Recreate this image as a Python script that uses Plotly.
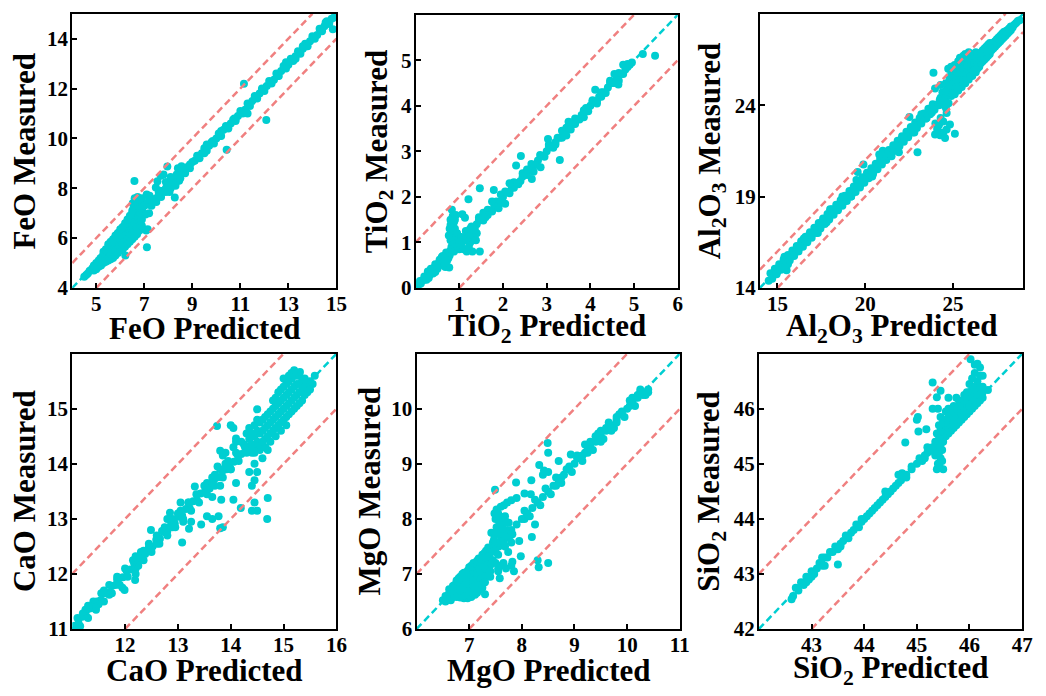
import plotly.graph_objects as go

CYAN = "#00CED1"
RED = "#F08080"
FONT = "Liberation Serif"

# ---------------- data: (predicted, measured) ----------------
feo = [
    (4.50, 4.45), (4.58, 4.52), (4.65, 4.58), (4.72, 4.68), (4.78, 4.72), (4.85, 4.80), (4.90, 4.90), (4.95, 4.85),
    (5.00, 5.00), (5.05, 4.95), (5.10, 5.10), (5.12, 5.00), (5.18, 5.20), (5.22, 5.10), (5.28, 5.30), (5.30, 5.15),
    (5.35, 5.40), (5.38, 5.25), (5.42, 5.50), (5.45, 5.35), (5.50, 5.60), (5.52, 5.42), (5.55, 5.30), (5.58, 5.70),
    (5.60, 5.50), (5.65, 5.80), (5.65, 5.40), (5.70, 5.60), (5.72, 5.90), (5.75, 5.48), (5.78, 5.70), (5.80, 6.05),
    (5.82, 5.58), (5.85, 5.85), (5.88, 6.15), (5.90, 5.65), (5.92, 5.95), (5.95, 6.20), (5.98, 5.75), (6.00, 6.05),
    (6.02, 6.30), (6.05, 5.85), (6.08, 6.15), (6.10, 6.40), (6.12, 5.95), (6.15, 6.25), (6.18, 6.00), (6.20, 6.50),
    (6.22, 6.35), (6.25, 6.10), (6.28, 6.60), (6.30, 6.45), (6.32, 6.20), (6.35, 6.70), (6.38, 6.55), (6.40, 6.30),
    (6.42, 6.85), (6.45, 6.65), (6.48, 6.40), (6.50, 7.00), (6.50, 6.75), (6.52, 7.40), (6.55, 6.50), (6.55, 7.20),
    (6.58, 6.90), (6.60, 7.60), (6.60, 6.60), (6.62, 7.05), (6.65, 7.35), (6.65, 6.75), (6.68, 7.50), (6.70, 6.95),
    (6.70, 7.15), (6.72, 7.65), (6.75, 6.85), (6.75, 7.30), (6.78, 7.05), (6.80, 7.45), (6.82, 7.20), (6.85, 7.00),
    (6.85, 7.35), (6.90, 7.25), (6.92, 7.10), (6.95, 7.40),
    (4.90, 4.70), (5.00, 4.75), (5.10, 4.85), (5.20, 4.90), (5.30, 5.00), (5.30, 5.45), (5.40, 5.05), (5.40, 5.55),
    (5.40, 5.20), (5.50, 5.10), (5.50, 5.75), (5.50, 5.30), (5.60, 5.15), (5.60, 5.85), (5.60, 5.35), (5.70, 5.20),
    (5.70, 5.95), (5.70, 5.45), (5.80, 5.30), (5.80, 6.10), (5.80, 5.50), (5.90, 5.40), (5.90, 6.20), (5.90, 5.55),
    (6.00, 5.50), (6.00, 6.35), (6.00, 5.65), (6.10, 5.55), (6.10, 6.45), (6.10, 5.75), (6.20, 5.65), (6.20, 6.60),
    (6.20, 5.85), (6.30, 5.75), (6.30, 6.75), (6.30, 5.95), (6.40, 5.85), (6.40, 6.90), (6.40, 6.05), (6.50, 5.95),
    (6.50, 7.10), (6.50, 6.15), (6.60, 6.05), (6.60, 7.30), (6.60, 6.25), (6.70, 6.15), (6.70, 7.45), (6.70, 6.35),
    (6.80, 6.30), (6.80, 7.55), (6.80, 6.60), (6.90, 6.50), (6.90, 7.60), (6.90, 6.75),
    (6.59, 8.29), (6.21, 5.30), (7.11, 5.63), (7.14, 6.35), (7.08, 6.30), (7.05, 6.95), (7.20, 7.00), (7.10, 7.75),
    (7.22, 7.70), (7.48, 8.03), (7.55, 8.28), (7.69, 8.50), (7.80, 8.55), (7.96, 8.87), (8.27, 7.63), (8.10, 8.45),
    (8.40, 8.80), (8.55, 8.88), (7.90, 8.25), (8.30, 8.10), (8.05, 7.85), (8.45, 8.30), (8.35, 8.55), (7.65, 7.90),
    (7.00, 7.30), (7.10, 7.35), (7.20, 7.40), (7.30, 7.45), (7.40, 7.55), (7.50, 7.60), (7.60, 7.70), (7.70, 7.80),
    (7.80, 7.90), (7.90, 8.00), (8.00, 8.05), (8.10, 8.15), (8.20, 8.25), (8.30, 8.35), (8.40, 8.45), (8.50, 8.55),
    (8.60, 8.65), (8.70, 8.70), (8.80, 8.85), (8.90, 8.95), (9.00, 9.05),
    (7.30, 7.30), (7.50, 7.45), (7.70, 7.65), (7.90, 7.85), (8.10, 8.00), (8.30, 8.20), (8.50, 8.40), (8.70, 8.60),
    (8.90, 8.80), (7.20, 7.55), (7.60, 7.85), (8.00, 8.20), (8.60, 8.80),
    (9.10, 9.10), (9.25, 9.30), (9.40, 9.40), (9.55, 9.55), (9.70, 9.70), (9.85, 9.90), (10.00, 10.00), (10.15, 10.10),
    (10.30, 10.35), (10.45, 10.45), (10.60, 10.60), (10.75, 10.80), (10.90, 10.90), (11.05, 11.05), (11.20, 11.15),
    (11.35, 11.35), (11.50, 11.50), (11.65, 11.65), (11.80, 11.80), (11.95, 11.95), (12.10, 12.10), (12.25, 12.25),
    (12.40, 12.35), (12.55, 12.50), (12.70, 12.70), (12.85, 12.85), (13.00, 12.95), (13.15, 13.15), (13.30, 13.30),
    (13.45, 13.45), (13.60, 13.60), (13.75, 13.70), (13.90, 13.90), (14.05, 14.05), (14.20, 14.15), (14.35, 14.35),
    (14.50, 14.50), (14.65, 14.60), (14.80, 14.80), (14.90, 14.85),
    (9.20, 9.30), (9.50, 9.60), (9.80, 9.85), (10.10, 10.20), (10.40, 10.50), (10.70, 10.75), (11.00, 11.10),
    (11.30, 11.40), (11.60, 11.70), (11.90, 11.95), (12.20, 12.30), (12.50, 12.60), (12.80, 12.90), (13.10, 13.20),
    (13.40, 13.50), (13.70, 13.80), (14.00, 14.10), (14.30, 14.40), (14.60, 14.70), (9.30, 9.20), (9.60, 9.50),
    (9.90, 9.80), (10.20, 10.10), (10.50, 10.40), (10.80, 10.75), (11.10, 11.00), (11.40, 11.30), (11.70, 11.60),
    (12.00, 11.90), (12.30, 12.20), (12.60, 12.50), (12.90, 12.80), (13.20, 13.10), (13.50, 13.40), (13.80, 13.70),
    (14.10, 14.00), (14.40, 14.35), (14.70, 14.60),
    (10.43, 9.54), (11.15, 12.19), (12.08, 10.74), (14.85, 14.38), (12.90, 13.05), (13.60, 13.70), (14.40, 14.30),
    (11.30, 11.00), (9.60, 9.75), (10.80, 10.70), (9.50, 9.40), (11.90, 12.00), (13.30, 13.20), (10.20, 10.30),
    (14.55, 14.65),
]

tio2 = [
    (0.03, 0.03), (0.08, 0.08), (0.12, 0.10), (0.15, 0.16), (0.20, 0.18), (0.22, 0.24), (0.27, 0.25), (0.30, 0.32),
    (0.32, 0.28), (0.35, 0.37), (0.38, 0.33), (0.40, 0.42), (0.42, 0.38), (0.45, 0.47), (0.48, 0.44), (0.50, 0.52),
    (0.52, 0.47), (0.55, 0.56), (0.58, 0.52), (0.60, 0.62), (0.62, 0.57), (0.65, 0.66), (0.68, 0.62), (0.70, 0.72),
    (0.72, 0.67), (0.75, 0.76), (0.78, 0.72), (0.80, 0.82), (0.68, 0.46), (0.77, 0.45), (0.28, 0.36), (0.45, 0.52),
    (0.60, 0.68),
    (0.10, 0.15), (0.20, 0.25), (0.30, 0.22), (0.40, 0.32), (0.50, 0.42), (0.55, 0.62), (0.65, 0.55), (0.70, 0.78),
    (0.75, 0.65), (0.35, 0.42), (0.25, 0.18), (0.45, 0.35), (0.62, 0.70), (0.72, 0.60),
    (0.83, 1.72), (0.85, 1.58), (0.92, 1.60), (0.80, 1.50), (0.88, 1.45), (0.80, 1.38), (0.90, 1.30), (0.83, 1.22),
    (0.88, 1.12), (0.95, 1.05), (0.80, 1.05), (0.85, 0.95), (0.93, 0.90), (1.00, 0.85), (1.05, 0.95), (0.78, 1.30),
    (0.95, 1.20), (0.82, 0.90), (0.88, 0.80), (0.76, 1.15), (0.90, 1.50),
    (1.17, 0.80), (1.30, 0.80), (1.47, 0.80), (1.10, 0.85), (1.25, 1.00), (1.30, 1.15), (1.35, 1.30), (1.40, 1.20),
    (1.28, 1.35), (1.15, 1.25), (1.20, 1.10), (1.13, 1.54), (1.07, 1.62), (1.21, 1.95), (1.47, 2.19), (1.79, 2.15),
    (1.38, 1.05), (1.22, 0.90),
    (0.85, 0.85), (0.90, 0.90), (1.00, 1.00), (1.10, 1.10), (1.20, 1.15), (1.30, 1.30), (1.40, 1.40), (1.50, 1.50),
    (1.60, 1.55), (1.70, 1.70), (1.80, 1.80), (1.90, 1.85), (2.00, 2.00), (2.10, 2.10), (2.20, 2.20), (2.30, 2.30),
    (2.40, 2.35), (2.50, 2.50), (2.60, 2.60), (2.70, 2.70), (2.80, 2.80), (2.90, 2.90), (3.00, 3.00), (3.10, 3.10),
    (3.20, 3.20), (3.30, 3.30), (3.40, 3.40), (3.50, 3.50), (3.60, 3.60), (3.70, 3.70), (3.80, 3.80), (3.90, 3.90),
    (4.00, 4.00), (4.10, 4.10), (4.20, 4.20), (4.30, 4.30), (4.40, 4.40), (4.50, 4.50), (4.60, 4.60), (4.70, 4.70),
    (4.80, 4.80), (4.90, 4.90),
    (1.05, 1.12), (1.25, 1.30), (1.45, 1.50), (1.65, 1.72), (1.85, 1.90), (2.05, 2.12), (2.25, 2.32), (2.45, 2.52),
    (2.65, 2.72), (2.85, 2.92), (3.05, 3.12), (3.25, 3.30), (3.45, 3.52), (3.65, 3.72), (3.85, 3.90), (4.05, 4.12),
    (4.25, 4.30), (4.45, 4.55), (4.65, 4.72), (4.85, 4.92), (1.15, 1.05), (1.35, 1.28), (1.55, 1.48), (1.75, 1.68),
    (1.95, 1.90), (2.15, 2.08), (2.35, 2.28), (2.55, 2.48), (2.75, 2.70), (2.95, 2.88), (3.15, 3.08), (3.35, 3.30),
    (3.55, 3.48), (3.75, 3.70), (3.95, 3.88), (4.15, 4.10), (4.35, 4.28), (4.55, 4.50), (4.75, 4.70),
    (1.55, 1.65), (1.75, 1.90), (1.45, 1.55), (1.65, 1.60), (2.05, 1.85), (1.95, 2.05), (2.55, 2.60), (2.70, 2.55),
    (3.05, 3.15), (3.20, 3.15), (3.50, 3.65), (3.65, 3.60), (3.90, 3.95), (4.15, 4.05), (4.25, 4.20), (4.55, 4.70),
    (4.75, 4.90), (4.95, 4.95), (4.85, 4.85), (4.65, 4.55), (2.25, 2.20), (2.45, 2.45), (3.35, 3.45), (3.45, 3.35),
    (1.90, 1.75), (2.15, 2.30), (3.85, 3.75), (4.45, 4.50), (4.05, 4.10),
    (2.30, 2.69), (2.41, 2.90), (3.30, 2.81), (2.66, 2.39), (2.86, 2.65), (4.64, 4.47), (5.20, 5.14), (5.48, 5.10),
    (4.11, 4.35), (3.03, 3.27),
]

al2o3 = [
    (14.50, 14.40), (14.75, 14.70), (15.00, 14.90), (15.25, 15.20), (15.50, 15.50), (15.60, 15.30), (15.40, 15.70),
    (15.52, 14.97), (15.75, 15.70), (16.00, 16.00), (16.25, 16.20), (16.50, 16.50), (16.75, 16.75), (17.00, 17.00),
    (17.25, 17.20), (17.50, 17.50), (17.75, 17.80), (18.00, 18.00), (18.25, 18.30), (18.50, 18.50), (18.75, 18.70),
    (19.00, 19.00), (19.25, 19.30), (19.50, 19.50), (19.75, 19.70), (20.00, 20.00), (20.25, 20.20), (20.50, 20.50),
    (20.75, 20.80), (21.00, 21.00), (21.25, 21.20), (21.50, 21.50), (21.75, 21.80), (22.00, 22.00), (22.25, 22.20),
    (22.50, 22.50), (22.75, 22.70), (23.00, 23.00), (23.25, 23.30), (23.50, 23.50), (23.75, 23.70), (24.00, 24.00),
    (24.25, 24.30),
    (14.60, 14.80), (14.85, 15.05), (15.10, 15.30), (15.35, 15.55), (15.60, 15.80), (15.85, 16.05), (16.10, 16.30),
    (16.35, 16.55), (16.60, 16.80), (16.85, 17.05), (17.10, 17.30), (17.35, 17.55), (17.60, 17.80), (17.85, 18.05),
    (18.10, 18.30), (18.35, 18.55), (18.60, 18.80), (18.85, 19.05), (19.10, 19.30), (19.35, 19.55), (19.60, 19.80),
    (19.85, 20.05), (20.10, 20.30), (20.35, 20.55), (20.60, 20.80), (20.85, 21.05), (21.10, 21.30), (21.35, 21.55),
    (21.60, 21.80), (21.85, 22.05), (22.10, 22.30), (22.35, 22.55), (22.60, 22.80), (22.85, 23.05), (23.10, 23.30),
    (23.35, 23.55), (23.60, 23.80), (23.85, 24.05),
    (14.70, 14.50), (14.95, 14.75), (15.20, 15.00), (15.45, 15.25), (15.70, 15.50), (15.95, 15.75), (16.20, 16.00),
    (16.45, 16.25), (16.70, 16.50), (16.95, 16.75), (17.20, 17.00), (17.45, 17.25), (17.70, 17.50), (17.95, 17.75),
    (18.20, 18.00), (18.45, 18.25), (18.70, 18.50), (18.95, 18.75), (19.20, 19.00), (19.45, 19.25), (19.70, 19.50),
    (19.95, 19.75), (20.20, 20.00), (20.45, 20.25), (20.70, 20.50), (20.95, 20.75), (21.20, 21.00), (21.45, 21.25),
    (21.70, 21.50), (21.95, 21.75), (22.20, 22.00), (22.45, 22.25), (22.70, 22.50), (22.95, 22.75), (23.20, 23.00),
    (23.45, 23.25), (23.70, 23.50), (23.95, 23.75), (24.20, 24.00),
    (16.50, 16.70), (17.30, 17.00), (18.00, 18.30), (18.70, 19.00), (19.20, 19.00), (19.50, 19.90), (19.57, 20.34),
    (19.90, 20.76), (20.80, 21.30), (21.00, 21.51), (21.30, 21.40), (21.50, 21.20), (21.92, 21.42), (22.98, 21.42),
    (22.52, 23.35), (23.50, 23.30), (23.80, 23.60), (22.80, 22.50), (23.20, 23.50), (20.40, 20.10), (17.80, 17.60),
    (23.98, 22.40), (24.27, 22.35), (24.45, 22.50), (24.64, 22.67), (24.83, 22.94), (24.10, 22.70), (24.00, 23.00),
    (24.45, 23.10), (24.64, 23.57), (24.60, 23.84), (24.75, 24.10), (25.11, 22.44), (24.30, 23.30), (24.55, 22.20),
    (24.20, 22.90),
    (23.89, 25.77), (23.98, 24.91), (24.30, 25.10), (24.73, 25.99),
    (24.30, 24.40), (24.50, 24.00), (24.40, 24.70), (24.20, 24.10), (24.60, 24.05),
    (24.60, 24.40), (24.60, 24.80), (24.60, 25.20),
    (24.90, 24.50), (24.90, 24.90), (24.90, 25.30), (24.90, 25.70), (24.90, 26.10),
    (25.10, 24.60), (25.10, 25.00), (25.10, 25.40), (25.10, 25.80), (25.10, 26.20),
    (25.30, 24.80), (25.30, 25.20), (25.30, 25.60), (25.30, 26.00), (25.30, 26.40),
    (25.50, 25.00), (25.50, 25.40), (25.50, 25.80), (25.50, 26.20), (25.50, 26.60),
    (25.70, 25.20), (25.70, 25.60), (25.70, 26.00), (25.70, 26.40), (25.70, 26.80),
    (25.90, 25.40), (25.90, 25.80), (25.90, 26.20), (25.90, 26.60), (25.90, 26.90),
    (26.10, 25.60), (26.10, 26.00), (26.10, 26.40), (26.10, 26.80),
    (26.30, 25.80), (26.30, 26.20), (26.30, 26.60), (26.30, 26.90),
    (26.50, 26.10), (26.50, 26.50), (26.50, 26.80),
    (26.70, 26.40), (26.70, 26.70), (26.70, 27.00),
    (26.90, 26.60), (26.90, 26.90), (26.90, 27.20),
    (27.10, 26.80), (27.10, 27.10), (27.10, 27.40),
    (27.30, 27.10), (27.30, 27.40), (27.50, 27.30), (27.50, 27.60), (27.70, 27.50), (27.70, 27.80),
    (27.90, 27.70), (27.90, 28.00), (28.10, 27.90), (28.10, 28.10), (28.30, 28.10), (28.30, 28.30),
    (28.50, 28.40), (28.70, 28.60),
    (24.80, 24.70), (24.80, 25.10), (24.80, 25.50), (25.00, 24.80), (25.00, 25.20), (25.00, 25.60), (25.00, 26.00),
    (25.20, 25.00), (25.20, 25.40), (25.20, 25.80), (25.20, 26.20), (25.40, 25.00), (25.40, 25.40), (25.40, 25.80),
    (25.40, 26.20), (25.40, 26.60), (25.60, 25.20), (25.60, 25.60), (25.60, 26.00), (25.60, 26.40), (25.60, 26.70),
    (25.80, 25.40), (25.80, 25.80), (25.80, 26.20), (25.80, 26.60), (26.00, 25.60), (26.00, 26.00), (26.00, 26.40),
    (26.00, 26.80), (26.20, 25.90), (26.20, 26.30), (26.20, 26.70), (26.40, 26.00), (26.40, 26.40), (26.40, 26.80),
    (26.60, 26.30), (26.60, 26.60), (26.60, 26.90), (26.80, 26.50), (26.80, 26.80), (26.80, 27.10), (27.00, 26.70),
    (27.00, 27.00), (27.00, 27.30), (27.20, 27.00), (27.20, 27.30), (27.40, 27.20), (27.40, 27.50), (27.60, 27.40),
    (27.60, 27.70), (27.80, 27.60), (27.80, 27.90), (28.00, 27.80), (28.00, 28.05), (28.20, 28.00), (28.20, 28.20),
    (28.40, 28.25), (28.60, 28.50), (28.80, 28.65),
]

cao = [
    (11.05, 11.06), (11.12, 11.10), (11.19, 11.22), (11.26, 11.24), (11.33, 11.37), (11.40, 11.38), (11.47, 11.50),
    (11.54, 11.52), (11.61, 11.65), (11.68, 11.66), (11.75, 11.78), (11.82, 11.80), (11.89, 11.92), (11.96, 11.94),
    (12.03, 12.06), (12.10, 12.08), (12.17, 12.20), (12.24, 12.22), (12.31, 12.34), (12.38, 12.36), (12.45, 12.48),
    (12.52, 12.50), (12.59, 12.62), (12.66, 12.64), (12.73, 12.76), (12.80, 12.78), (12.87, 12.90), (12.94, 12.92),
    (13.01, 13.04), (13.08, 13.06), (13.15, 13.18), (13.22, 13.20), (13.29, 13.32), (13.36, 13.34), (13.43, 13.46),
    (13.50, 13.48), (13.57, 13.60), (13.64, 13.62), (13.71, 13.74), (13.78, 13.76), (13.85, 13.88), (13.92, 13.90),
    (13.99, 14.02), (14.06, 14.04), (14.13, 14.16), (14.20, 14.18), (14.27, 14.30), (14.34, 14.32),
    (11.10, 11.20), (11.25, 11.35), (11.40, 11.50), (11.55, 11.65), (11.70, 11.80), (11.85, 11.95), (12.00, 12.10),
    (12.15, 12.25), (12.30, 12.40), (12.45, 12.55), (12.60, 12.70), (12.75, 12.85), (12.90, 13.00), (13.05, 13.15),
    (13.20, 13.30), (13.35, 13.45), (13.50, 13.60), (13.65, 13.75), (13.80, 13.90), (13.95, 14.05), (14.10, 14.20),
    (14.25, 14.35), (11.15, 11.05), (11.30, 11.20), (11.45, 11.35), (11.60, 11.50), (11.75, 11.65), (11.90, 11.80),
    (12.05, 11.95), (12.20, 12.10), (12.35, 12.25), (12.50, 12.40), (12.65, 12.55), (12.80, 12.70), (12.95, 12.85),
    (13.10, 13.00), (13.25, 13.15), (13.40, 13.30), (13.55, 13.45), (13.70, 13.60), (13.85, 13.75), (14.00, 13.90),
    (14.15, 14.05), (14.30, 14.20),
    (11.30, 11.42), (11.45, 11.40), (11.60, 11.70), (11.70, 11.62), (11.85, 11.90), (12.20, 12.32), (12.25, 12.15),
    (12.35, 12.42), (12.60, 12.55), (12.70, 12.78), (12.90, 12.85), (13.00, 13.10), (11.20, 11.28), (11.50, 11.45),
    (11.99, 11.71), (11.95, 11.75), (12.19, 11.89), (12.20, 12.00), (12.49, 12.80), (12.85, 13.11), (12.80, 13.00),
    (13.08, 12.57), (13.05, 13.30), (13.20, 13.30), (13.10, 12.95), (13.21, 12.82), (13.44, 12.90), (13.25, 12.95),
    (13.55, 13.05), (13.65, 13.00), (13.77, 13.05), (13.85, 12.85), (13.80, 12.83), (13.32, 13.59), (13.55, 13.65),
    (13.60, 13.55), (13.75, 13.95), (13.90, 14.20), (13.85, 14.15), (13.80, 14.24), (13.74, 14.69), (14.00, 14.70),
    (14.05, 14.65), (14.10, 14.46), (14.10, 14.40), (14.05, 14.30), (13.90, 14.00), (13.70, 13.80), (13.95, 13.92),
    (13.65, 13.40), (13.82, 13.35), (14.05, 13.35), (14.10, 13.65), (14.19, 13.20), (14.40, 13.15), (14.45, 13.30),
    (14.50, 13.15), (14.69, 13.00), (14.70, 13.38), (14.40, 13.60), (14.45, 13.70), (14.35, 13.85), (14.50, 13.85),
    (14.60, 14.10), (14.45, 14.00), (14.40, 14.20), (14.65, 14.30), (14.70, 14.25), (14.30, 14.55), (14.20, 14.40),
    (14.00, 13.90), (13.80, 13.60),
    (14.35, 14.25), (14.35, 14.45), (14.35, 14.65),
    (14.45, 14.20), (14.45, 14.30), (14.45, 14.50), (14.45, 14.70),
    (14.55, 14.25), (14.55, 14.35), (14.55, 14.55), (14.55, 14.75),
    (14.65, 14.30), (14.65, 14.45), (14.65, 14.65), (14.65, 14.85),
    (14.75, 14.40), (14.75, 14.55), (14.75, 14.75), (14.75, 14.95),
    (14.85, 14.50), (14.85, 14.65), (14.85, 14.85), (14.85, 15.05), (14.85, 15.20),
    (14.95, 14.60), (14.95, 14.75), (14.95, 14.95), (14.95, 15.15), (14.95, 15.35),
    (15.05, 14.70), (15.05, 14.85), (15.05, 15.05), (15.05, 15.25), (15.05, 15.45),
    (15.15, 14.95), (15.15, 15.15), (15.15, 15.35), (15.15, 15.55), (15.15, 15.65),
    (15.25, 15.05), (15.25, 15.25), (15.25, 15.45), (15.25, 15.60),
    (15.35, 15.15), (15.35, 15.35), (15.35, 15.50),
    (15.45, 15.30), (15.45, 15.45), (15.55, 15.45),
    (14.40, 14.35), (14.40, 14.55), (14.50, 14.40), (14.50, 14.60), (14.50, 14.80), (14.60, 14.40), (14.60, 14.60),
    (14.60, 14.80), (14.70, 14.50), (14.70, 14.70), (14.70, 14.90), (14.80, 14.60), (14.80, 14.80), (14.80, 15.00),
    (14.80, 15.15), (14.90, 14.70), (14.90, 14.90), (14.90, 15.10), (14.90, 15.30), (15.00, 14.80), (15.00, 15.00),
    (15.00, 15.20), (15.00, 15.40), (15.00, 15.55), (15.10, 14.90), (15.10, 15.10), (15.10, 15.30), (15.10, 15.50),
    (15.10, 15.60), (15.20, 15.00), (15.20, 15.20), (15.20, 15.40), (15.20, 15.60), (15.30, 15.10), (15.30, 15.30),
    (15.30, 15.45), (15.30, 15.60), (15.40, 15.25), (15.40, 15.40), (15.40, 15.55), (15.50, 15.35), (15.50, 15.50),
    (15.59, 15.60), (15.31, 15.67), (15.20, 15.70), (14.50, 14.99),
]

mgo = [
    (6.55, 6.50), (6.55, 6.60), (6.62, 6.55), (6.62, 6.65), (6.62, 6.72), (6.69, 6.58), (6.69, 6.68), (6.69, 6.78),
    (6.76, 6.58), (6.76, 6.68), (6.76, 6.78), (6.76, 6.88),
    (6.83, 6.57), (6.83, 6.67), (6.83, 6.77), (6.83, 6.87), (6.83, 6.95),
    (6.90, 6.56), (6.90, 6.66), (6.90, 6.76), (6.90, 6.86), (6.90, 6.96), (6.90, 7.02),
    (6.97, 6.56), (6.97, 6.66), (6.97, 6.76), (6.97, 6.86), (6.97, 6.96), (6.97, 7.06),
    (7.04, 6.58), (7.04, 6.68), (7.04, 6.78), (7.04, 6.88), (7.04, 6.98), (7.04, 7.08), (7.04, 7.15),
    (7.11, 6.62), (7.11, 6.72), (7.11, 6.84), (7.11, 6.96), (7.11, 7.08), (7.11, 7.18),
    (7.18, 6.70), (7.18, 6.82), (7.18, 6.95), (7.18, 7.08), (7.18, 7.20), (7.18, 7.28),
    (7.25, 6.85), (7.25, 7.00), (7.25, 7.12), (7.25, 7.25), (7.25, 7.35),
    (7.32, 7.05), (7.32, 7.20), (7.32, 7.32), (7.32, 7.42), (7.39, 7.15), (7.39, 7.30), (7.39, 7.42),
    (6.60, 6.60), (6.65, 6.52), (6.65, 6.62), (6.65, 6.70), (6.72, 6.60), (6.72, 6.70), (6.72, 6.80), (6.80, 6.60),
    (6.80, 6.72), (6.80, 6.82), (6.80, 6.92), (6.87, 6.60), (6.87, 6.70), (6.87, 6.80), (6.87, 6.90), (6.87, 7.00),
    (6.94, 6.60), (6.94, 6.72), (6.94, 6.82), (6.94, 6.92), (6.94, 7.02), (7.00, 6.62), (7.00, 6.72), (7.00, 6.82),
    (7.00, 6.92), (7.00, 7.02), (7.00, 7.12), (7.08, 6.65), (7.08, 6.78), (7.08, 6.90), (7.08, 7.02), (7.08, 7.12),
    (7.08, 7.20), (7.15, 6.66), (7.15, 6.78), (7.15, 6.90), (7.15, 7.02), (7.15, 7.14), (7.15, 7.24), (7.22, 6.78),
    (7.22, 6.90), (7.22, 7.04), (7.22, 7.16), (7.22, 7.28), (7.29, 6.95), (7.29, 7.10), (7.29, 7.25), (7.29, 7.38),
    (7.36, 7.10), (7.36, 7.25), (7.36, 7.38), (7.36, 7.48),
    (7.30, 6.63), (7.20, 6.80), (7.25, 6.75), (6.50, 6.52),
    (7.45, 7.45), (7.50, 7.55), (7.48, 7.70), (7.52, 7.85), (7.50, 8.00), (7.55, 8.10), (7.52, 8.17), (7.60, 7.60),
    (7.62, 7.75), (7.58, 7.90), (7.65, 8.00), (7.70, 7.65), (7.72, 7.80), (7.75, 7.93), (7.80, 7.57), (7.74, 7.40),
    (7.68, 7.50), (7.42, 7.75), (7.45, 7.57), (7.61, 7.68), (7.55, 7.35), (7.45, 7.25), (7.58, 8.05), (7.48, 8.10),
    (7.47, 7.62), (7.53, 7.78), (7.57, 7.95), (7.63, 7.85), (7.68, 8.05), (7.50, 7.40), (7.56, 7.50), (7.66, 7.55),
    (7.70, 7.95), (7.78, 7.70),
    (7.66, 8.25), (7.72, 8.30), (7.80, 8.34), (7.90, 8.38), (8.05, 8.46), (8.17, 8.45), (7.60, 8.22),
    (7.20, 7.10), (7.30, 7.12), (7.35, 7.15), (7.42, 7.18), (7.50, 7.20), (7.60, 7.15), (7.65, 7.20), (7.70, 7.10),
    (7.80, 7.15), (7.85, 7.05), (7.55, 7.10), (7.40, 7.05),
    (7.49, 8.53), (7.89, 8.66), (8.18, 8.70), (8.33, 8.98), (8.49, 9.38), (8.50, 9.20), (8.40, 8.80), (8.42, 8.88),
    (8.50, 8.85), (8.70, 9.05), (8.93, 9.17), (8.30, 7.25), (8.32, 7.12), (8.50, 7.20), (7.98, 7.32), (7.82, 7.22),
    (8.19, 7.67), (8.25, 7.90), (7.82, 7.72), (7.95, 7.60), (8.05, 8.00), (8.10, 8.10), (7.30, 6.85), (7.40, 6.95),
    (7.55, 7.05), (7.58, 6.92),
    (7.30, 7.30), (7.40, 7.40), (7.50, 7.50), (7.60, 7.60), (7.70, 7.70), (7.80, 7.80), (7.90, 7.90),
    (8.00, 8.00), (8.10, 8.10), (8.20, 8.20), (8.30, 8.30), (8.40, 8.40), (8.50, 8.50), (8.60, 8.60), (8.70, 8.70),
    (8.80, 8.80), (8.90, 8.90), (9.00, 9.00), (9.10, 9.10), (9.20, 9.20), (9.30, 9.30), (9.40, 9.40), (9.50, 9.50),
    (9.60, 9.60), (9.70, 9.70), (9.80, 9.80), (9.90, 9.90), (10.00, 10.00), (10.10, 10.10), (10.20, 10.20),
    (10.30, 10.30), (10.40, 10.30),
    (8.05, 8.15), (8.25, 8.35), (8.45, 8.55), (8.65, 8.75), (8.85, 8.90), (9.05, 9.15), (9.25, 9.30), (9.45, 9.55),
    (9.65, 9.75), (9.85, 9.90), (10.05, 10.15), (10.25, 10.35), (8.15, 8.05), (8.35, 8.25), (8.55, 8.45), (8.75, 8.65),
    (8.95, 8.85), (9.15, 9.05), (9.35, 9.25), (9.55, 9.45), (9.75, 9.65), (9.95, 9.85), (10.15, 10.05), (10.35, 10.25),
    (9.20, 9.35), (9.40, 9.50), (9.50, 9.60), (9.60, 9.65), (9.30, 9.40), (9.50, 9.40), (9.70, 9.60), (9.80, 9.75),
    (10.10, 10.20), (10.20, 10.25), (10.30, 10.25), (10.15, 10.20), (10.40, 10.35), (10.25, 10.30), (8.90, 8.95),
    (9.05, 9.10), (9.15, 9.15), (9.25, 9.20), (8.65, 8.60), (8.75, 8.75), (9.80, 9.85), (9.90, 9.95), (10.05, 10.05),
]

sio2 = [
    (42.62, 42.54), (42.65, 42.60), (42.70, 42.75), (42.75, 42.70), (42.80, 42.85), (42.85, 42.80), (42.90, 42.95),
    (42.95, 42.90), (43.00, 43.05), (43.05, 43.00), (43.10, 43.10), (43.15, 43.20), (43.20, 43.15), (43.25, 43.30),
    (43.30, 43.30), (43.35, 43.40), (43.40, 43.40), (43.45, 43.50), (43.50, 43.45), (43.55, 43.55), (43.60, 43.60),
    (43.65, 43.70), (43.70, 43.65), (43.75, 43.75), (43.80, 43.80), (43.85, 43.90), (43.90, 43.85), (43.95, 43.95),
    (44.00, 44.00), (44.05, 44.05), (44.10, 44.10), (44.15, 44.15), (44.20, 44.20), (44.25, 44.25), (44.30, 44.30),
    (44.35, 44.35), (44.40, 44.40), (44.45, 44.45), (44.50, 44.50), (44.55, 44.55), (44.60, 44.60), (44.65, 44.65),
    (44.70, 44.70), (44.80, 44.80), (44.90, 44.90), (45.00, 45.00), (45.10, 45.05), (45.20, 45.20),
    (42.90, 42.85), (43.00, 42.95), (43.20, 43.30), (43.25, 43.15), (43.50, 43.17), (43.55, 43.50), (43.95, 44.00),
    (44.40, 44.50), (44.72, 44.83), (44.65, 44.80), (44.80, 44.75), (44.90, 44.95), (45.05, 45.10), (45.15, 45.10),
    (45.20, 45.30), (45.25, 45.25), (45.15, 45.15),
    (44.78, 45.39), (45.03, 45.59), (45.00, 45.80), (45.02, 45.85), (45.18, 45.63), (45.30, 46.48), (45.38, 46.21),
    (45.40, 46.00), (45.30, 46.00), (45.45, 46.33), (45.50, 45.75),
    (45.38, 44.90), (45.50, 44.90), (45.40, 45.00), (45.45, 45.10), (45.35, 45.15), (45.42, 45.20), (45.48, 45.25),
    (45.38, 45.30), (45.45, 45.35), (45.50, 45.40), (45.35, 45.40), (45.42, 45.45), (45.48, 45.50), (45.38, 45.55),
    (45.45, 45.60), (45.52, 45.65), (45.42, 45.70), (45.50, 45.75), (45.45, 45.85), (45.40, 45.35), (45.30, 45.30),
    (45.33, 45.22), (45.48, 45.05), (45.43, 44.95),
    (45.55, 45.50), (45.55, 45.60), (45.55, 45.70), (45.55, 45.80), (45.55, 45.95),
    (45.60, 45.55), (45.60, 45.65), (45.60, 45.75), (45.60, 45.85), (45.60, 46.00),
    (45.65, 45.60), (45.65, 45.70), (45.65, 45.80), (45.65, 45.90),
    (45.70, 45.65), (45.70, 45.75), (45.70, 45.85), (45.70, 45.95), (45.70, 46.05),
    (45.75, 45.70), (45.75, 45.80), (45.75, 45.90), (45.75, 46.00), (45.75, 46.20),
    (45.80, 45.75), (45.80, 45.85), (45.80, 45.95), (45.80, 46.05), (45.80, 46.15),
    (45.85, 45.80), (45.85, 45.90), (45.85, 46.00), (45.85, 46.10),
    (45.90, 45.85), (45.90, 45.95), (45.90, 46.05), (45.90, 46.15), (45.90, 46.25),
    (45.95, 45.90), (45.95, 46.00), (45.95, 46.10), (45.95, 46.20),
    (46.00, 45.95), (46.00, 46.05), (46.00, 46.15), (46.00, 46.30), (46.00, 46.45),
    (46.05, 46.00), (46.05, 46.10), (46.05, 46.20), (46.05, 46.35),
    (46.10, 46.05), (46.10, 46.15), (46.10, 46.25), (46.10, 46.40),
    (46.15, 46.10), (46.15, 46.20), (46.15, 46.30), (46.15, 46.50),
    (46.20, 46.15), (46.20, 46.25), (46.20, 46.40), (46.20, 46.60), (46.20, 46.75),
    (46.25, 46.20), (46.25, 46.30), (46.25, 46.40),
    (46.02, 46.90), (46.10, 46.80), (46.15, 46.82), (46.10, 46.65), (46.25, 46.60), (46.05, 46.55), (46.35, 46.34),
    (45.60, 46.20), (45.95, 46.30),
]

# ---------------- panels ----------------
panels = [
    dict(data=feo, name="FeO", lo=4, hi=15, xt=[5, 7, 9, 11, 13, 15], yt=[4, 6, 8, 10, 12, 14], box=(73, 340, 14, 293), ytx=25),
    dict(data=tio2, name="TiO<sub>2</sub>", lo=0, hi=6, xt=[1, 2, 3, 4, 5, 6], yt=[0, 1, 2, 3, 4, 5], box=(420, 685, 15, 293), ytx=383),
    dict(data=al2o3, name="Al<sub>2</sub>O<sub>3</sub>", lo=14, hi=29, xt=[15, 20, 25], yt=[14, 19, 24], box=(768, 1034, 14, 293), ytx=719),
    dict(data=cao, name="CaO", lo=11, hi=16, xt=[12, 13, 14, 15, 16], yt=[11, 12, 13, 14, 15], box=(73, 340, 360, 640), ytx=25),
    dict(data=mgo, name="MgO", lo=6, hi=11, xt=[7, 8, 9, 10, 11], yt=[6, 7, 8, 9, 10], box=(421, 687, 360, 640), ytx=373),
    dict(data=sio2, name="SiO<sub>2</sub>", lo=42, hi=47, xt=[43, 44, 45, 46, 47], yt=[42, 43, 44, 45, 46], box=(767, 1033, 360, 640), ytx=719),
]

W, H = 1046, 696
fig = go.Figure()
annotations = []
layout_axes = {}

for i, p in enumerate(panels, start=1):
    sfx = "" if i == 1 else str(i)
    xa, ya = "x" + sfx, "y" + sfx
    lo, hi = p["lo"], p["hi"]
    xs = [d[0] for d in p["data"]]
    ys = [d[1] for d in p["data"]]
    fig.add_trace(go.Scatter(x=xs, y=ys, mode="markers", xaxis=xa, yaxis=ya,
                             marker=dict(color=CYAN, size=8, line=dict(width=0)),
                             showlegend=False, hoverinfo="skip"))
    dash = dict(width=2.5, dash="7px,4px")
    fig.add_trace(go.Scatter(x=[lo, hi], y=[lo, hi], mode="lines", xaxis=xa, yaxis=ya,
                             line=dict(color=CYAN, **dash), showlegend=False, hoverinfo="skip"))
    fig.add_trace(go.Scatter(x=[lo, hi - 1], y=[lo + 1, hi], mode="lines", xaxis=xa, yaxis=ya,
                             line=dict(color=RED, **dash), showlegend=False, hoverinfo="skip"))
    fig.add_trace(go.Scatter(x=[lo + 1, hi], y=[lo, hi - 1], mode="lines", xaxis=xa, yaxis=ya,
                             line=dict(color=RED, **dash), showlegend=False, hoverinfo="skip"))

    x0, x1, y0, y1 = p["box"]
    common = dict(showline=True, mirror=True, linecolor="black", linewidth=2,
                  ticks="inside", ticklen=5, tickwidth=1.5, tickcolor="black",
                  showgrid=False, zeroline=False, range=[lo, hi],
                  tickfont=dict(family=FONT, size=21, color="black", weight="bold"))
    layout_axes["xaxis" + sfx] = dict(domain=[x0 / W, x1 / W], anchor=ya, tickvals=p["xt"],
                                      ticktext=["<b>%s</b>" % v for v in p["xt"]],
                                      ticklabelstandoff=-4, **common)
    layout_axes["yaxis" + sfx] = dict(domain=[1 - y1 / H, 1 - y0 / H], anchor=xa, tickvals=p["yt"],
                                      ticktext=["<b>%s</b>" % v for v in p["yt"]],
                                      ticklabelstandoff=-2, **common)

    tfont = dict(family=FONT, size=31, color="black", weight="bold")
    annotations.append(dict(text="<b>" + p["name"] + " Predicted</b>", x=(x0 + x1) / 2 / W,
                            y=1 - (y1 + 41 + (1 if i > 3 else 0)) / H,
                            xref="paper", yref="paper", xanchor="center", yanchor="middle",
                            showarrow=False, font=tfont))
    annotations.append(dict(text="<b>" + p["name"] + " Measured</b>", x=p["ytx"] / W, y=1 - (y0 + y1) / 2 / H,
                            xref="paper", yref="paper", xanchor="center", yanchor="middle",
                            textangle=-90, showarrow=False, font=tfont))

fig.update_layout(width=W, height=H, margin=dict(l=0, r=0, t=0, b=0),
                  paper_bgcolor="white", plot_bgcolor="white",
                  annotations=annotations, **layout_axes)

fig.write_html("out.html")
